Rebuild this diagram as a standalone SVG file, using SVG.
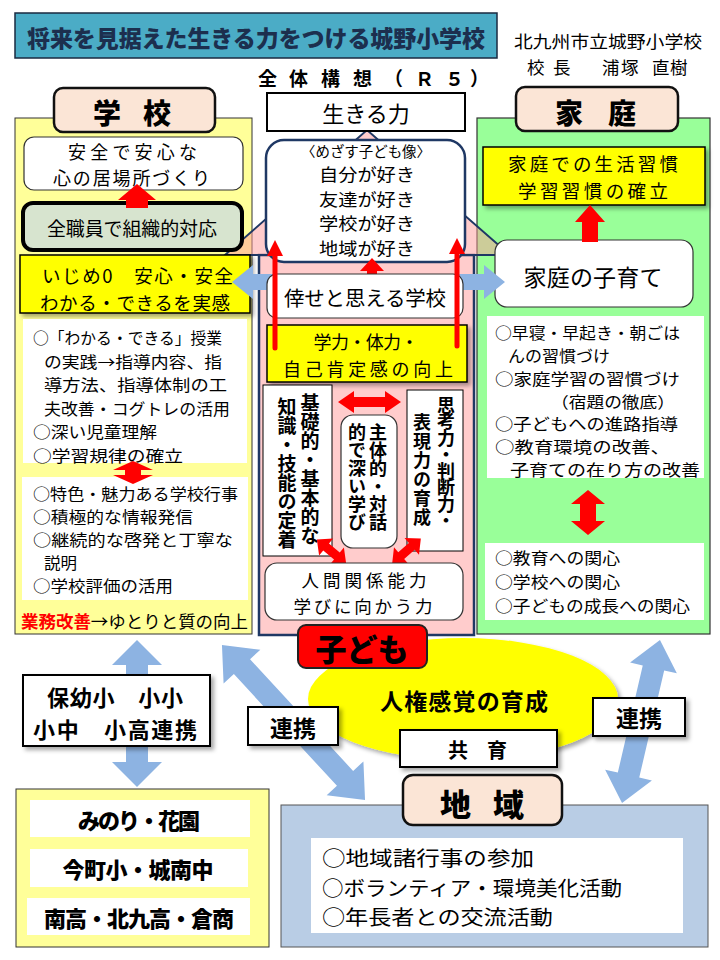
<svg xmlns="http://www.w3.org/2000/svg" width="720" height="960" viewBox="0 0 720 960">
<defs>
<style>
text{font-family:'Noto Sans CJK JP','Noto Sans CJK SC',sans-serif;dominant-baseline:central;fill:#000}
.b{font-weight:bold}
.h{font-weight:900}
.c{text-anchor:middle}
.v{writing-mode:vertical-rl;font-weight:bold}
.red{fill:#ff0000}
.blue{fill:#8db3e2}
.tab{fill:#fbe5d6;stroke:#111;stroke-width:2.5}
.wb{fill:#fff;stroke:#333;stroke-width:1.2}
.wk{fill:#fff;stroke:#000;stroke-width:2}
.wn{fill:#fff}
.yb{fill:#ffff00;stroke:#000;stroke-width:1.5}
</style>
<filter id="sh" x="-10%" y="-15%" width="130%" height="145%">
<feDropShadow dx="3" dy="3" stdDeviation="2" flood-color="#000" flood-opacity="0.35"/>
</filter>
</defs>
<rect width="720" height="960" fill="#fff"/>

<!-- header -->
<g id="title">
<rect x="15" y="13" width="482" height="45" fill="#4bacc6" stroke="#1a2a40" stroke-width="1.5"/>
<text x="256" y="37" class="h c" font-size="23" textLength="458" style="fill:#1c2f4e">将来を見据えた生きる力をつける城野小学校</text>
</g>
<g id="author">
<text font-size="17.5"><tspan x="608" y="40" class="c" textLength="188" lengthAdjust="spacingAndGlyphs">北九州市立城野小学校</tspan><tspan x="527 546 553 572 602 621 641 652 670" y="66">校 長　浦塚 直樹</tspan></text>
</g>
<g id="subtitle">
<text x="258 277 289 308 321 340 353 384 415 445 470" y="77" class="b" font-size="19">全 体 構 想（Ｒ５）</text>
</g>

<!-- panels -->
<g id="school-panel"><rect x="15" y="118" width="237" height="516" fill="#ffff99" stroke="#333" stroke-width="1"/></g>
<g id="home-panel"><rect x="477" y="118" width="233" height="516" fill="#99ff99" stroke="#333" stroke-width="1.2"/></g>
<g id="house">
<rect x="259" y="255" width="215" height="380" fill="#ffcccc" stroke="#1f3864" stroke-width="2.5"/>
<polygon points="225,255 367,130 510,255" fill="#ff9999" fill-opacity="0.5" stroke="#1f3864" stroke-width="2"/>
</g>

<g id="school-tab"><rect x="54" y="88" width="161" height="44" rx="9" class="tab"/>
<text x="93 121 143" y="112" class="h" font-size="28">学 校</text></g>
<g id="home-tab"><rect x="516" y="87" width="162" height="44" rx="9" class="tab"/>
<text x="555 583 608" y="112" class="h" font-size="28">家 庭</text></g>

<!-- school side -->
<g id="anshin">
<rect x="24" y="137" width="219" height="53" rx="10" class="wb"/>
<text class="c" font-size="18"><tspan x="132.5" y="151" textLength="129">安全で安心な</tspan><tspan x="131.5" y="177" textLength="157">心の居場所づくり</tspan></text>
</g>
<g id="zenshokuin">
<rect x="23" y="203" width="219" height="47" rx="10" fill="#d7e4cf" stroke="#000" stroke-width="4"/>
<text x="132" y="227" class="c" font-size="19" textLength="170">全職員で組織的対応</text>
</g>
<g id="ijime">
<rect x="20" y="255" width="230" height="58" class="yb" filter="url(#sh)"/>
<text class="c" font-size="18.5"><tspan x="137.5" y="275" textLength="191">いじめ0　安心・安全</tspan><tspan x="135" y="302" textLength="190">わかる・できるを実感</tspan></text>
</g>
<g id="school-list1">
<rect x="23" y="319" width="224" height="144" class="wn"/>
<text font-size="16" lengthAdjust="spacingAndGlyphs"><tspan x="33" y="337" textLength="189" lengthAdjust="spacingAndGlyphs">○「わかる・できる」授業</tspan><tspan x="44" y="360.6" textLength="178" lengthAdjust="spacingAndGlyphs">の実践→指導内容、指</tspan><tspan x="44" y="384.2" textLength="183" lengthAdjust="spacingAndGlyphs">導方法、指導体制の工</tspan><tspan x="44" y="407.8" textLength="186" lengthAdjust="spacingAndGlyphs">夫改善・コグトレの活用</tspan><tspan x="33" y="431.4" textLength="124" lengthAdjust="spacingAndGlyphs">○深い児童理解</tspan><tspan x="33" y="455" textLength="150" lengthAdjust="spacingAndGlyphs">○学習規律の確立</tspan></text>
</g>
<g id="school-list2">
<rect x="22" y="477" width="226" height="123" class="wn"/>
<text font-size="15.8"><tspan x="33" y="493" textLength="205" lengthAdjust="spacingAndGlyphs">○特色・魅力ある学校行事</tspan><tspan x="33" y="516" textLength="160" lengthAdjust="spacingAndGlyphs">○積極的な情報発信</tspan><tspan x="33" y="539" textLength="200" lengthAdjust="spacingAndGlyphs">○継続的な啓発と丁寧な</tspan><tspan x="44" y="562" textLength="33" lengthAdjust="spacingAndGlyphs">説明</tspan><tspan x="33" y="585" textLength="140" lengthAdjust="spacingAndGlyphs">○学校評価の活用</tspan></text>
</g>
<g id="gyomu">
<text x="21" y="620" font-size="17" textLength="227" lengthAdjust="spacingAndGlyphs"><tspan font-weight="bold" style="fill:#ff0000">業務改善</tspan>→ゆとりと質の向上</text>
</g>

<!-- home side -->
<g id="home-habit">
<rect x="483" y="147" width="222" height="58" class="yb" filter="url(#sh)"/>
<text class="c" font-size="18.5"><tspan x="593" y="163" textLength="170">家庭での生活習慣</tspan><tspan x="593" y="190" textLength="150">学習習慣の確立</tspan></text>
</g>
<g id="home-kosodate">
<rect x="495" y="240" width="198" height="67" rx="12" class="wb"/>
<text x="593" y="276" class="c" font-size="23" textLength="139">家庭の子育て</text>
</g>
<g id="home-list1">
<rect x="487" y="316" width="217" height="162" class="wn"/>
<text font-size="15.6"><tspan x="495" y="332" textLength="185" lengthAdjust="spacingAndGlyphs">○早寝・早起き・朝ごは</tspan><tspan x="508" y="354.8" textLength="102" lengthAdjust="spacingAndGlyphs">んの習慣づけ</tspan><tspan x="495" y="377.7" textLength="185" lengthAdjust="spacingAndGlyphs">○家庭学習の習慣づけ</tspan><tspan x="551" y="400.5" textLength="124" lengthAdjust="spacingAndGlyphs">（宿題の徹底）</tspan><tspan x="495" y="423.3" textLength="183" lengthAdjust="spacingAndGlyphs">○子どもへの進路指導</tspan><tspan x="495" y="446.2" textLength="175" lengthAdjust="spacingAndGlyphs">○教育環境の改善、</tspan><tspan x="510" y="469" textLength="190" lengthAdjust="spacingAndGlyphs">子育ての在り方の改善</tspan></text>
</g>
<g id="home-list2">
<rect x="485" y="543" width="219" height="77" class="wn"/>
<text font-size="16.2"><tspan x="495" y="557" textLength="125" lengthAdjust="spacingAndGlyphs">○教育への関心</tspan><tspan x="495" y="581" textLength="125" lengthAdjust="spacingAndGlyphs">○学校への関心</tspan><tspan x="495" y="605" textLength="195" lengthAdjust="spacingAndGlyphs">○子どもの成長への関心</tspan></text>
</g>

<!-- center -->
<g id="ikiru">
<rect x="267" y="93" width="198" height="38" class="wk"/>
<text x="366" y="112" class="c" font-size="22">生きる力</text>
</g>
<g id="mezasu">
<rect x="266" y="140" width="199" height="122" rx="18" fill="#fff" stroke="#1f3864" stroke-width="2.5"/>
<text class="c"><tspan x="366" y="150" font-size="14.3" textLength="130" lengthAdjust="spacingAndGlyphs">〈めざす子ども像〉</tspan><tspan x="367" y="173" font-size="17" textLength="96" lengthAdjust="spacingAndGlyphs">自分が好き</tspan><tspan x="367" y="197.5" font-size="17" textLength="96" lengthAdjust="spacingAndGlyphs">友達が好き</tspan><tspan x="367" y="222" font-size="17" textLength="96" lengthAdjust="spacingAndGlyphs">学校が好き</tspan><tspan x="367" y="246.5" font-size="17" textLength="96" lengthAdjust="spacingAndGlyphs">地域が好き</tspan></text>
</g>

<g id="connectors">
<polygon class="red" points="137,184 156,200 148,200 148,208 126,208 126,200 118,200"/>
<polygon class="red" points="133,461 153,470 141,470 141,475 153,475 133,484 113,475 125,475 125,470 113,470"/>
<polygon class="red" points="590,205 605,222 598,222 598,242 582,242 582,222 575,222"/>
<polygon class="red" points="588,490 605,504 596,504 596,521 605,521 588,535 571,521 580,521 580,504 571,504"/>
<polygon class="red" points="372,258 384,271 377,271 377,277 367,277 367,271 360,271"/>
<polygon class="blue" points="232,282 253,265 253,274 484,274 484,265 505,282 484,299 484,290 253,290 253,299"/>
<polygon class="blue" points="137,640 162,665 148,665 148,762 162,762 137,787 112,762 126,762 126,665 112,665"/>
<polygon class="blue" transform="translate(293.5,722.5) rotate(47.3)" points="-105.5,0 -76,-25 -76,-11 76,-11 76,-25 105.5,0 76,25 76,11 -76,11 -76,25"/>
<polygon class="blue" transform="translate(641,721.5) rotate(103.1)" points="-83.7,0 -55,-24 -55,-11 55,-11 55,-24 83.7,0 55,24 55,11 -55,11 -55,24"/>
</g>

<g id="shiawase">
<rect x="267" y="274" width="196" height="44" rx="10" class="wb"/>
<text x="365" y="297" class="c" font-size="20.5" textLength="162">倖せと思える学校</text>
</g>
<g id="gakuryoku">
<rect x="267" y="325" width="200" height="57" class="yb" filter="url(#sh)"/>
<text class="c" font-size="18"><tspan x="366" y="341" textLength="105">学力・体力・</tspan><tspan x="368" y="367.5" textLength="170">自己肯定感の向上</tspan></text>
</g>
<g id="connectors-center">
<line x1="275" y1="348" x2="275" y2="254" stroke="#ff0000" stroke-width="5" stroke-linecap="round"/>
<polygon class="red" points="275,240 283,256 267,256"/>
<line x1="457" y1="346" x2="457" y2="252" stroke="#ff0000" stroke-width="5" stroke-linecap="round"/>
<polygon class="red" points="457,238 465,254 449,254"/>
<polygon class="red" points="338,402 354,391 354,397 385,397 385,391 401,402 385,413 385,407 354,407 354,413"/>
</g>
<g id="kiso">
<rect x="263" y="385" width="69" height="171" fill="#fff" stroke="#000" stroke-width="1"/>
<text class="v" font-size="19"><tspan x="310" y="393">基礎的・基本的な</tspan><tspan x="287" y="397">知識・技能の定着</tspan></text>
</g>
<g id="shutai">
<rect x="341" y="415" width="56" height="133" rx="12" class="wb"/>
<text class="v" font-size="18"><tspan x="378" y="423">主体的・対話</tspan><tspan x="357" y="423">的で深い学び</tspan></text>
</g>
<g id="shiko">
<rect x="407" y="390" width="56" height="161" fill="#fff" stroke="#000" stroke-width="1"/>
<text class="v" font-size="18"><tspan x="446" y="396" letter-spacing="-1.5">思考力・判断力・</tspan><tspan x="422" y="413" letter-spacing="1">表現力の育成</tspan></text>
</g>
<g id="connectors-diag">
<polygon class="red" transform="translate(331.5,551.5) rotate(39.6)" points="-19,0 -7,-11 -7,-4.5 7,-4.5 7,-11 19,0 7,11 7,4.5 -7,4.5 -7,11"/>
<polygon class="red" transform="translate(406.5,551) rotate(-41)" points="-19,0 -7,-11 -7,-4.5 7,-4.5 7,-11 19,0 7,11 7,4.5 -7,4.5 -7,11"/>
</g>
<g id="ningen">
<rect x="265" y="563" width="198" height="57" rx="12" class="wb"/>
<text class="c" font-size="17.5"><tspan x="364" y="579" textLength="125">人間関係能力</tspan><tspan x="363" y="604.5" textLength="139">学びに向かう力</tspan></text>
</g>

<!-- bottom -->
<g id="jinken">
<ellipse cx="463" cy="699" rx="155" ry="61" fill="#ffff00" filter="url(#sh)"/>
<text x="464" y="700" class="b c" font-size="23" textLength="168">人権感覚の育成</text>
</g>
<g id="kodomo">
<rect x="298" y="625" width="129" height="43" rx="8" fill="#ff0000" stroke="#222" stroke-width="2"/>
<text x="362" y="647" class="c h" font-size="31">子ども</text>
</g>
<g id="renkei-left">
<rect x="248" y="707" width="90" height="38" class="wk" filter="url(#sh)"/>
<text x="293" y="727" class="b c" font-size="23">連携</text>
</g>
<g id="renkei-right">
<rect x="593" y="698" width="92" height="38" class="wk" filter="url(#sh)"/>
<text x="639" y="717" class="b c" font-size="23">連携</text>
</g>
<g id="kyoiku">
<rect x="400" y="730" width="157" height="37" class="wk" filter="url(#sh)"/>
<text x="448 468 487" y="749" class="b" font-size="20">共 育</text>
</g>
<g id="hoyo">
<rect x="23" y="675" width="187" height="71" class="wk" filter="url(#sh)"/>
<text class="b" font-size="22"><tspan x="47" y="696" textLength="136">保幼小　小小</tspan><tspan x="33" y="728" textLength="164">小中　小高連携</tspan></text>
</g>
<g id="schools-panel">
<rect x="16" y="789" width="253" height="158" fill="#ffff99" stroke="#333" stroke-width="1"/>
<rect x="30" y="800" width="220" height="37" class="wn"/>
<text x="139" y="819" class="h c" font-size="22" textLength="122">みのり・花園</text>
<rect x="30" y="849" width="218" height="38" class="wn"/>
<text x="138" y="868" class="h c" font-size="22" textLength="151">今町小・城南中</text>
<rect x="27" y="898" width="223" height="37" class="wn"/>
<text x="139" y="917" class="h c" font-size="22" textLength="190">南高・北九高・倉商</text>
</g>
<g id="community-panel">
<rect x="281" y="805" width="427" height="142" fill="#b9cde5" stroke="#555" stroke-width="1"/>
<rect x="311" y="838" width="372" height="95" class="wn"/>
<text font-size="20"><tspan x="322" y="857" textLength="212" lengthAdjust="spacingAndGlyphs">○地域諸行事の参加</tspan><tspan x="322" y="886.5" textLength="300" lengthAdjust="spacingAndGlyphs">○ボランティア・環境美化活動</tspan><tspan x="322" y="916" textLength="231" lengthAdjust="spacingAndGlyphs">○年長者との交流活動</tspan></text>
</g>
<g id="community-tab">
<rect x="403" y="775" width="159" height="50" rx="10" class="tab"/>
<text x="440 471 493" y="802" class="h" font-size="31">地 域</text>
</g>
</svg>
